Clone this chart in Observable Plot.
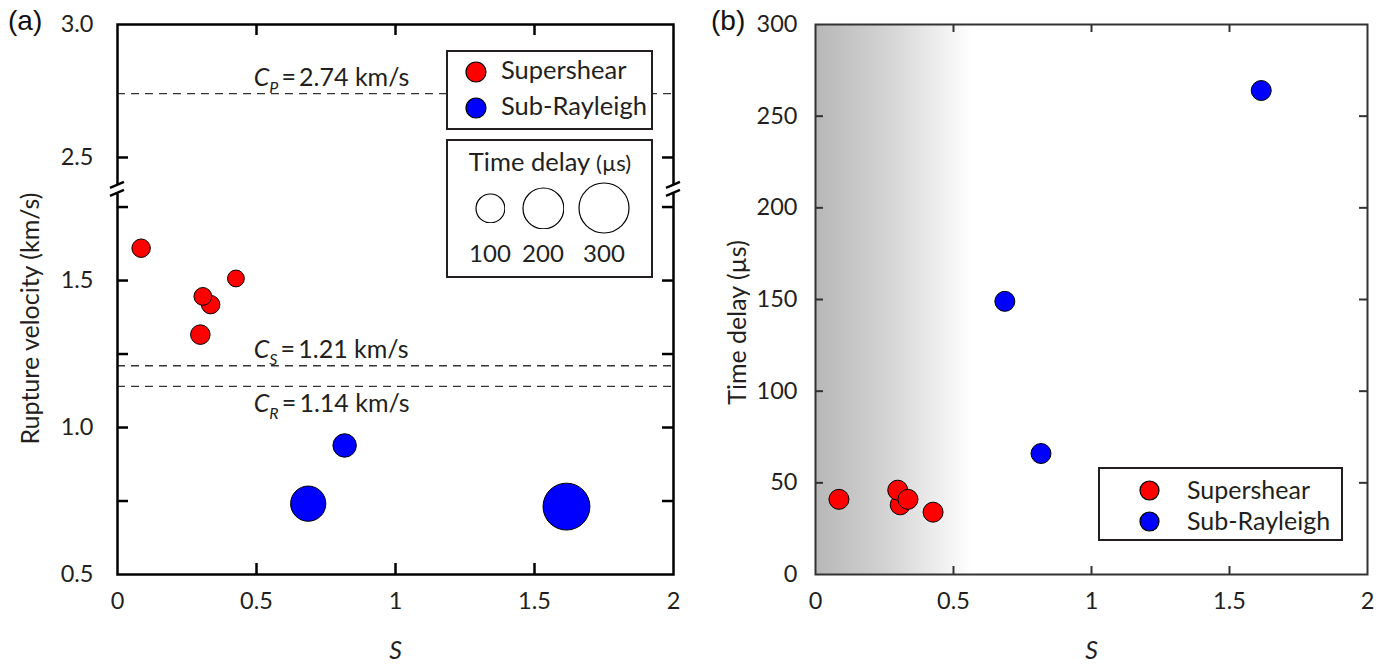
<!DOCTYPE html>
<html><head><meta charset="utf-8">
<script src="https://cdn.jsdelivr.net/npm/d3@7"></script>
<script src="https://cdn.jsdelivr.net/npm/@observablehq/plot@0.6"></script>
<style>
html,body{margin:0;padding:0;background:#fff;}
#wrap{position:relative;width:1397px;height:666px;overflow:hidden;font-family:Lato,sans-serif;color:#231f20;}
.pane{position:absolute;top:0;}
.box{position:absolute;border:2px solid #231f20;background:#fff;box-sizing:border-box;}
.lbl{position:absolute;white-space:nowrap;line-height:1;}
.panel{position:absolute;font-family:"Liberation Sans",Arial,sans-serif;font-size:28px;color:#111;line-height:1;}
</style></head><body><div id="wrap"></div>
<script>
// ---------------- data ----------------
const S        = [0.085, 0.307, 0.298, 0.335, 0.426, 0.686, 0.817, 1.615];
const velocity = [1.610, 1.446, 1.316, 1.418, 1.507, 0.741, 0.939, 0.731];   // km/s
const delay    = [41, 38, 46, 41, 34, 149, 66, 264];                          // µs
const regime   = ["Supershear","Supershear","Supershear","Supershear","Supershear","Sub-Rayleigh","Sub-Rayleigh","Sub-Rayleigh"];
const regimes  = ["Supershear","Sub-Rayleigh"];
const regimeColors = ["#ff0000","#0000ff"];

const speedValues = [2.74, 1.21, 1.14];
const speedNames  = ["P","S","R"];
const speedAbove  = [true, true, false];

const xTicks   = [0, 0.5, 1, 1.5, 2];
const xInner   = [0.5, 1, 1.5];
const yTicksA  = [0.5, 1.0, 1.5, 2.5, 3.0];
const yInnerA  = [0.75, 1.0, 1.25, 1.5, 1.75, 2.5];
const yTicksB  = [0, 50, 100, 150, 200, 250, 300];
const yInnerB  = [50, 100, 150, 200, 250];
const sizeLegend = [100, 200, 300];
const shadeRange = [0, 0.57];
const xDomain = [0, 2];
const yDomainA = [0.5, 3.0];
const yDomainB = [0, 300];
const annotX = 0.49;

const data = S.map((s, i) => ({S: s, v: velocity[i], delay: delay[i], regime: regime[i]}));

// broken axis: lower part 0.5..1.81, upper part 2.38..3.0 (compressed)
const LO = 1.81, HI = 2.38, RATIO = 266 / 294;
const brk = v => v <= LO ? v : LO + (v - HI) * RATIO;
const unbrk = u => u <= LO + 1e-9 ? u : HI + (u - LO) / RATIO;

const wrap = document.getElementById("wrap");
const H = 666;
const font = "Lato, sans-serif";
const ink = "#231f20";
const tickFs = 23.5, labFs = 25;

// ---------------- panel (a) ----------------
const mA = {l: 117, r: 27, t: 24, b: 92}, W_A = 700;
const iwA = W_A - mA.l - mA.r, ih = H - mA.t - mA.b;
const tA = 11;
const above = speedValues.map((v, i) => i).filter(i => speedAbove[i]);
const below = speedValues.map((v, i) => i).filter(i => !speedAbove[i]);
const annText = i => `C|${speedNames[i]}|\u2009=\u2009${speedValues[i].toFixed(2)} km/s`;

const plotA = Plot.plot({
  width: W_A, height: H,
  marginLeft: mA.l, marginRight: mA.r, marginTop: mA.t, marginBottom: mA.b,
  style: {fontFamily: font, fontSize: tickFs + "px", color: ink, background: "transparent", overflow: "visible"},
  x: {domain: xDomain},
  y: {domain: [brk(yDomainA[0]), brk(yDomainA[1])], transform: brk},
  r: {type: "sqrt", domain: [0, 300], range: [0, 25]},
  color: {domain: regimes, range: regimeColors},
  marks: [
    Plot.ruleY(speedValues, {y: d => d, stroke: "#333", strokeWidth: 1.4, strokeDasharray: "8,6"}),
    Plot.text(above, {x: () => annotX, y: i => speedValues[i], text: annText, textAnchor: "start", dy: -16, fontSize: labFs, className: "cann"}),
    Plot.text(below, {x: () => annotX, y: i => speedValues[i], text: annText, textAnchor: "start", dy: 18, fontSize: labFs, className: "cann"}),
    Plot.dot(data, {x: "S", y: "v", r: "delay", fill: "regime", stroke: "#000", strokeWidth: 1}),
    Plot.axisX({ticks: xTicks, tickSize: 0, tickPadding: 18, tickFormat: d => String(d), label: null}),
    Plot.tickX(xInner, {x: d => d, insetTop: ih - tA, stroke: "#000", strokeWidth: 2.5}),
    Plot.tickX(xInner, {x: d => d, insetBottom: ih - tA, stroke: "#000", strokeWidth: 2.5}),
    // axis marks bypass the scale transform, so ticks are given in the broken (display) space
    Plot.axisY({ticks: yTicksA.map(brk), tickSize: 0, tickPadding: 24, tickFormat: u => unbrk(u).toFixed(1), label: null}),
    Plot.tickY(yInnerA, {y: d => d, insetRight: iwA - tA, stroke: "#000", strokeWidth: 2.5}),
    Plot.tickY(yInnerA, {y: d => d, insetLeft: iwA - tA, stroke: "#000", strokeWidth: 2.5}),
    Plot.frame({stroke: "#000", strokeWidth: 2.5}),
    Plot.text(["Rupture velocity (km/s)"], {frameAnchor: "left", textAnchor: "middle", rotate: -90, dx: -87, dy: 19, text: d => d, fontSize: labFs}),
    Plot.text(["S"], {frameAnchor: "bottom", textAnchor: "middle", dy: 84, text: d => d, fontStyle: "italic", fontSize: 25})
  ]
});
plotA.classList.add("pane");
plotA.style.left = "0px";
wrap.appendChild(plotA);

// subscripts in annotation texts
plotA.querySelectorAll("g.cann text").forEach(t => {
  const [c, sub, rest] = t.textContent.split("|");
  t.textContent = "";
  const ns = "http://www.w3.org/2000/svg";
  const a = document.createElementNS(ns, "tspan"); a.textContent = c; a.setAttribute("font-style", "italic");
  const b = document.createElementNS(ns, "tspan"); b.textContent = sub; b.setAttribute("font-style", "italic");
  b.setAttribute("font-size", "16"); b.setAttribute("dy", "7");
  const d = document.createElementNS(ns, "tspan"); d.textContent = rest; d.setAttribute("dy", "-7");
  t.append(a, b, d);
});

// axis break marks
{
  const ns = "http://www.w3.org/2000/svg";
  const yb = plotA.scale("y").apply(LO);
  const xs = [plotA.scale("x").apply(xDomain[0]), plotA.scale("x").apply(xDomain[1])];
  const g = document.createElementNS(ns, "g");
  for (const x of xs) {
    g.insertAdjacentHTML("beforeend",
      `<rect x="${x-3}" y="${yb-4}" width="6" height="8" fill="#fff"/>` +
      `<line x1="${x-7}" y1="${yb-1}" x2="${x+7}" y2="${yb-7}" stroke="#000" stroke-width="2.3"/>` +
      `<line x1="${x-7}" y1="${yb+7}" x2="${x+7}" y2="${yb+1}" stroke="#000" stroke-width="2.3"/>`);
  }
  plotA.appendChild(g);
}

// ---------------- panel (b) ----------------
const mB = {l: 115, r: 30, t: 24, b: 92}, W_B = 697, OFF_B = 700;
const iwB = W_B - mB.l - mB.r;
const tB = 8;
const plotB = Plot.plot({
  width: W_B, height: H,
  marginLeft: mB.l, marginRight: mB.r, marginTop: mB.t, marginBottom: mB.b,
  style: {fontFamily: font, fontSize: tickFs + "px", color: ink, background: "transparent", overflow: "visible"},
  x: {domain: xDomain},
  y: {domain: yDomainB},
  color: {domain: regimes, range: regimeColors},
  marks: [
    () => {
      const ns = "http://www.w3.org/2000/svg";
      const defs = document.createElementNS(ns, "defs");
      defs.innerHTML = `<linearGradient id="shadeGrad" x1="0" x2="1" y1="0" y2="0">
        <stop offset="0" stop-color="#b7b7b7"/><stop offset="0.45" stop-color="#d3d3d3"/>
        <stop offset="0.8" stop-color="#efefef"/><stop offset="1" stop-color="#ffffff"/></linearGradient>`;
      return defs;
    },
    Plot.rect([shadeRange], {x1: d => d[0], x2: d => d[1], fill: "url(#shadeGrad)"}),
    Plot.dot(data, {x: "S", y: "delay", r: 10, fill: "regime", stroke: "#000", strokeWidth: 1}),
    Plot.axisX({ticks: xTicks, tickSize: 0, tickPadding: 18, tickFormat: d => String(d), label: null}),
    Plot.tickX(xInner, {x: d => d, insetTop: ih - tB, stroke: "#333", strokeWidth: 2}),
    Plot.tickX(xInner, {x: d => d, insetBottom: ih - tB, stroke: "#333", strokeWidth: 2}),
    Plot.axisY({ticks: yTicksB, tickSize: 0, tickPadding: 18, tickFormat: d => String(d), label: null}),
    Plot.tickY(yInnerB, {y: d => d, insetRight: iwB - tB, stroke: "#333", strokeWidth: 2}),
    Plot.tickY(yInnerB, {y: d => d, insetLeft: iwB - tB, stroke: "#333", strokeWidth: 2}),
    Plot.frame({stroke: "#333", strokeWidth: 2}),
    Plot.text(["Time delay (\u00b5s)"], {frameAnchor: "left", textAnchor: "middle", rotate: -90, dx: -78, dy: 23, text: d => d, fontSize: labFs}),
    Plot.text(["S"], {frameAnchor: "bottom", textAnchor: "middle", dy: 84, text: d => d, fontStyle: "italic", fontSize: 25})
  ]
});
plotB.classList.add("pane");
plotB.style.left = OFF_B + "px";
wrap.appendChild(plotB);

// ---------------- legends & panel letters (HTML) ----------------
function el(cls, css, html) {
  const d = document.createElement("div");
  d.className = cls; Object.assign(d.style, css);
  if (html != null) d.innerHTML = html;
  wrap.appendChild(d); return d;
}
const dotSvg = (r, fill) => `<svg width="${2*r+2}" height="${2*r+2}" style="display:block"><circle cx="${r+1}" cy="${r+1}" r="${r}" fill="${fill}" stroke="#000" stroke-width="1.2"/></svg>`;
function placeDot(cx, cy, r, fill) {
  el("lbl", {left: (cx - r - 1) + "px", top: (cy - r - 1) + "px"}, dotSvg(r, fill));
}
function placeText(x, cy, txt, size, anchor) {
  const d = el("lbl", {left: x + "px", top: (cy - size * 0.5) + "px", fontSize: size + "px", height: size + "px", lineHeight: size + "px"}, txt);
  if (anchor === "middle") d.style.transform = "translateX(-50%)";
  return d;
}

// panel (a) colour legend
el("box", {left: "446px", top: "50px", width: "207px", height: "80px"});
regimes.forEach((name, i) => {
  const cy = 72 + i * 36;
  placeDot(476, cy, 10, regimeColors[i]);
  placeText(501, cy - 2, name, 25.5);
});
// panel (a) size legend
el("box", {left: "446px", top: "139px", width: "207px", height: "139px"});
placeText(550, 162, "Time delay <span style='font-size:22px'>(\u00b5s)</span>", 25.5, "middle");
const rScale = plotA.scale("r");
const sizeX = [490, 543, 604];
sizeLegend.forEach((v, i) => {
  const r = rScale.apply(v);
  placeDot(sizeX[i], 208, r, "none");
  placeText(sizeX[i], 253, String(v), 24, "middle");
});

// panel (b) legend
el("box", {left: "1098px", top: "467px", width: "245px", height: "74px"});
regimes.forEach((name, i) => {
  const cy = 490 + i * 31;
  placeDot(1149, cy, 9.5, regimeColors[i]);
  placeText(1187, cy - 1, name, 25);
});

// panel letters
el("panel", {left: "8px", top: "7px"}, "(a)");
el("panel", {left: "711px", top: "7px"}, "(b)");
</script>
</body></html>
